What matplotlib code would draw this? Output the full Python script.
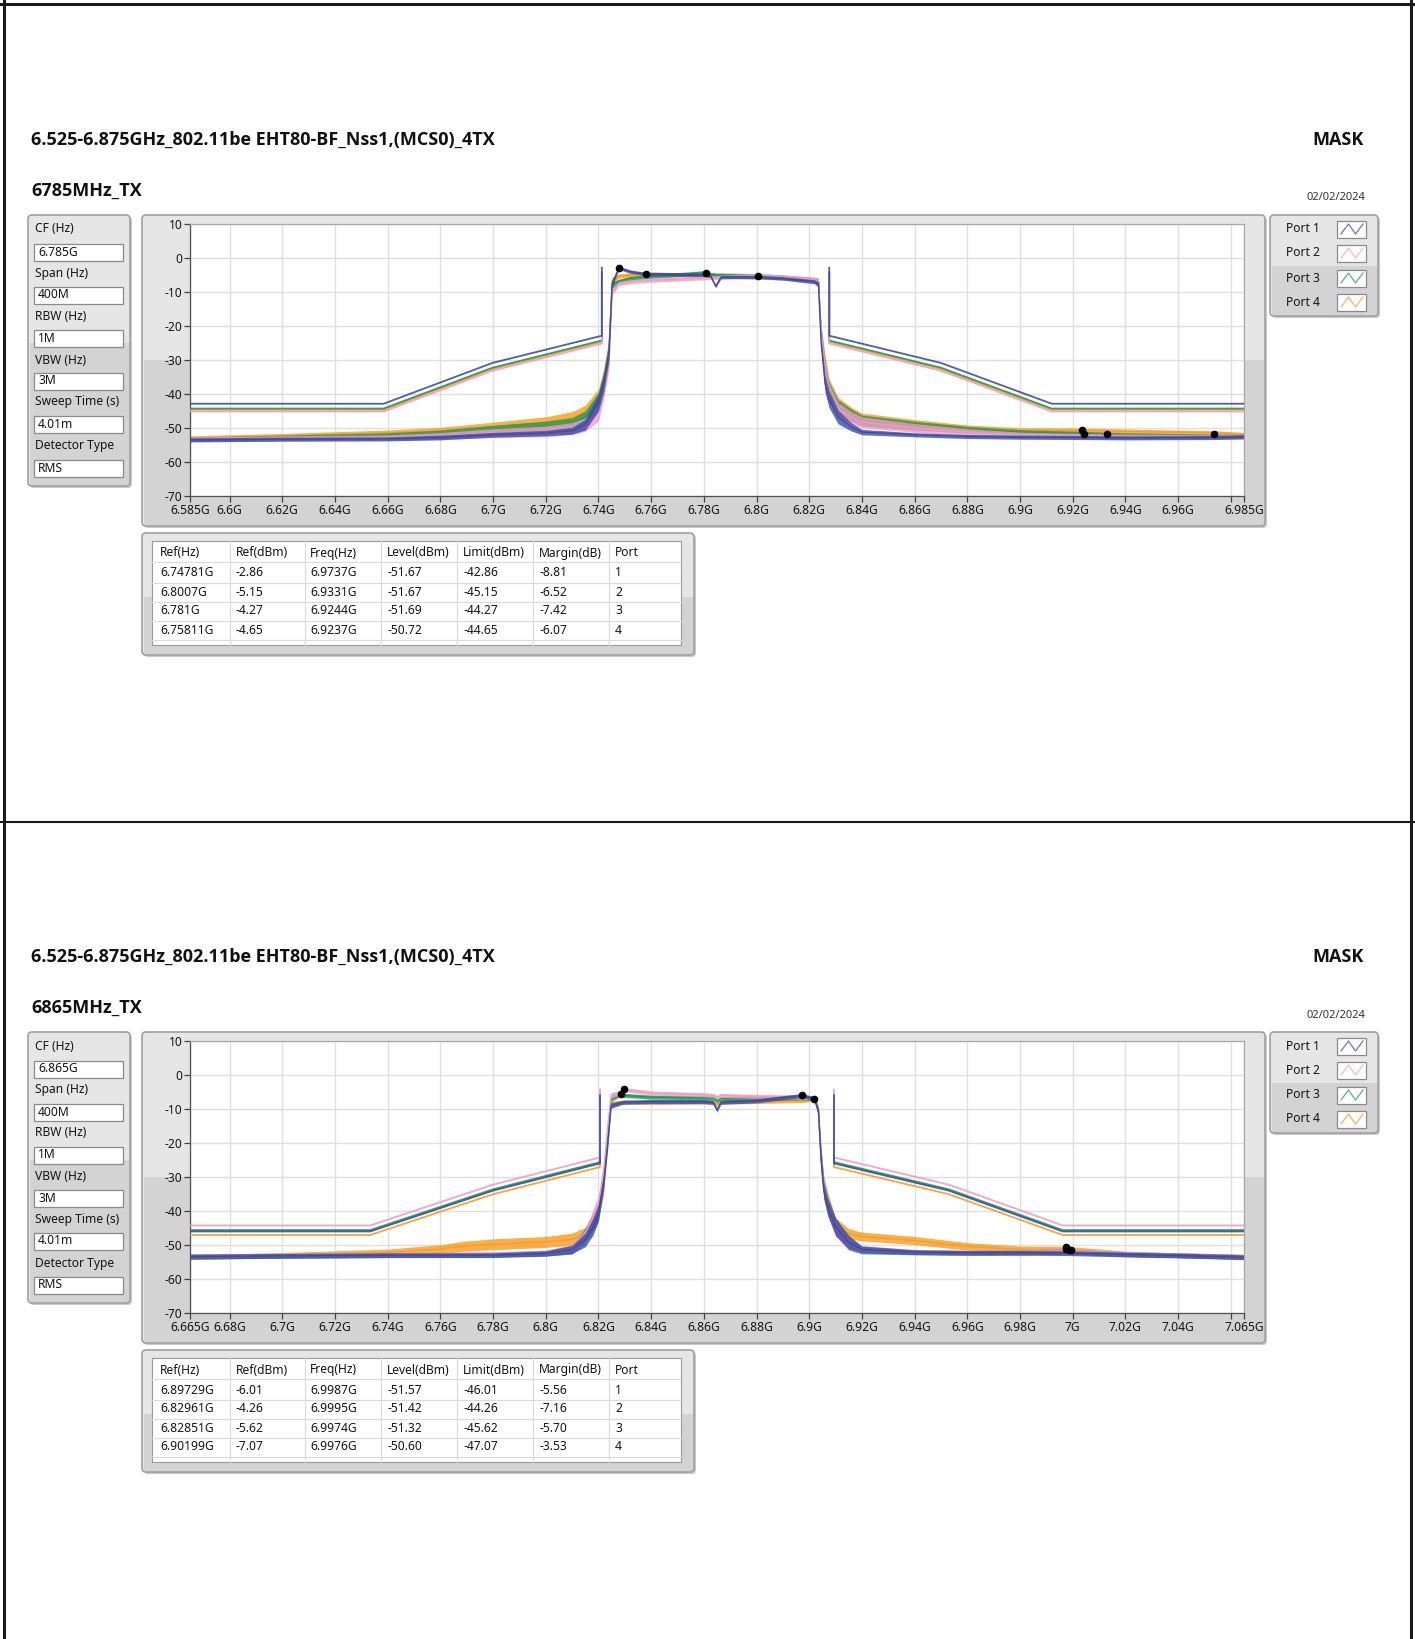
import numpy as np
import matplotlib.pyplot as plt
from matplotlib import font_manager
from matplotlib.patches import FancyBboxPatch, Rectangle

plt.rcParams['font.family'] = ['Noto Sans', 'DejaVu Sans']


def has_bold(name):
    for fe in font_manager.fontManager.ttflist:
        w = fe.weight
        if isinstance(w, str):
            w = font_manager.weight_dict.get(w, 400)
        if fe.name == name and w >= 600:
            return True
    return False


BOLD = next((n for n in ["Noto Sans", "Open Sans", "Lato", "Roboto", "Liberation Sans"] if has_bold(n)),
            "DejaVu Sans")

W, H = 1415, 1639
nan = np.nan

# ---------------- data ----------------
title = "6.525-6.875GHz_802.11be EHT80-BF_Nss1,(MCS0)_4TX"
test_date = "02/02/2024"
ports = ["Port 1", "Port 2", "Port 3", "Port 4"]
colors = ["#3a4ba6", "#f39ac5", "#1b9a4d", "#f89c1e"]
setting_names = ["CF (Hz)", "Span (Hz)", "RBW (Hz)", "VBW (Hz)", "Sweep Time (s)", "Detector Type"]
table_head = ["Ref(Hz)", "Ref(dBm)", "Freq(Hz)", "Level(dBm)", "Limit(dBm)", "Margin(dB)", "Port"]
y_ticks = [10, 0, -10, -20, -30, -40, -50, -60, -70]
mask_dbr = [-40, -40, -28, -20, 0, nan, 0, -20, -28, -40, -40]

# 6785 MHz
top_sub = "6785MHz_TX"
top_settings = ["6.785G", "400M", "1M", "3M", "4.01m", "RMS"]
top_xlim = (6.585, 6.985)
top_xticks = [6.585, 6.6, 6.62, 6.64, 6.66, 6.68, 6.7, 6.72, 6.74, 6.76, 6.78,
              6.8, 6.82, 6.84, 6.86, 6.88, 6.9, 6.92, 6.94, 6.96, 6.98, 6.985]
top_xlabels = ["6.585G", "6.6G", "6.62G", "6.64G", "6.66G", "6.68G", "6.7G", "6.72G", "6.74G",
               "6.76G", "6.78G", "6.8G", "6.82G", "6.84G", "6.86G", "6.88G", "6.9G", "6.92G",
               "6.94G", "6.96G", "", "6.985G"]
top_mask_f = [6.585, 6.6585, 6.6998, 6.7413, 6.7413, nan, 6.8276, 6.8276, 6.870, 6.912, 6.985]
top_f = [6.585, 6.62, 6.66, 6.68, 6.70, 6.72, 6.73, 6.735, 6.740, 6.742, 6.744, 6.7452, 6.7478,
         6.752, 6.758, 6.770, 6.781, 6.7825, 6.7845, 6.7865, 6.8007, 6.810, 6.822, 6.8235,
         6.8245, 6.826, 6.8275, 6.831, 6.836, 6.840, 6.860, 6.880, 6.900, 6.924, 6.940, 6.974, 6.985]
top_p1 = [-53.5, -53.3, -53.2, -52.8, -52.0, -51.5, -50.8, -49.0, -42.5, -37.0, -28.0, -7.5, -2.9,
          -4.0, -4.7, -4.8, -5.0, -5.2, -8.3, -5.6, -5.6, -6.0, -7.0, -7.8,
          -25.0, -37.0, -41.5, -46.8, -49.7, -51.2, -52.0, -52.5, -52.7, -52.8, -52.9, -52.8, -52.6]
top_p2 = [-53.2, -53.0, -52.8, -52.3, -51.5, -51.0, -50.2, -49.0, -45.5, -39.0, -31.0, -10.0, -7.5,
          -7.0, -6.6, -6.2, -5.8, -5.7, -5.8, -5.6, -5.15, -5.6, -6.3, -6.8,
          -22.0, -33.0, -39.5, -44.5, -47.0, -48.3, -50.0, -51.2, -52.0, -52.3, -52.5, -52.6, -52.6]
top_p3 = [-53.3, -52.8, -52.2, -51.6, -50.5, -49.6, -48.8, -47.0, -42.0, -36.0, -27.0, -8.0, -6.8,
          -6.0, -5.5, -4.9, -4.27, -4.8, -5.0, -5.0, -5.2, -5.6, -6.3, -6.8,
          -22.0, -33.0, -39.0, -43.8, -46.2, -47.8, -49.3, -50.5, -51.3, -51.69, -52.1, -52.4, -52.5]
top_p4 = [-52.9, -52.3, -51.4, -50.8, -49.6, -48.3, -47.0, -45.3, -41.0, -35.0, -26.0, -6.5, -5.3,
          -5.0, -4.65, -4.9, -5.1, -5.1, -5.3, -5.3, -5.6, -5.9, -6.5, -7.0,
          -21.0, -31.0, -38.0, -43.0, -45.7, -47.2, -48.8, -50.1, -50.7, -50.72, -51.0, -51.4, -51.9]
top_spread_p1 = [0.6, 0.6, 0.6, 0.7, 0.7, 0.8, 1.0, 1.6, 2.5, 2.5, 2.0, 1.0, 0.5, 0.5, 0.5, 0.5,
                 0.5, 0.5, 0.5, 0.5, 0.5, 0.5, 0.6, 0.8, 1.5, 2.5, 2.5, 2.0, 1.2, 0.8, 0.6, 0.6,
                 0.6, 0.6, 0.6, 0.6, 0.6]
top_spread = [0.6, 0.7, 0.8, 1.0, 1.3, 1.6, 1.8, 2.0, 2.5, 2.5, 2.0, 1.0, 0.6, 0.6, 0.6, 0.6,
              0.6, 0.6, 0.6, 0.6, 0.6, 0.6, 0.6, 0.8, 1.5, 2.5, 2.5, 2.0, 1.8, 1.6, 1.3, 1.0,
              0.8, 0.7, 0.7, 0.6, 0.6]
top_ref_hz = [6.74781, 6.8007, 6.781, 6.75811]
top_ref_dbm = [-2.86, -5.15, -4.27, -4.65]
top_freq_hz = [6.9737, 6.9331, 6.9244, 6.9237]
top_level = [-51.67, -51.67, -51.69, -50.72]
top_limit = [-42.86, -45.15, -44.27, -44.65]
top_margin = [-8.81, -6.52, -7.42, -6.07]

# 6865 MHz
bot_sub = "6865MHz_TX"
bot_settings = ["6.865G", "400M", "1M", "3M", "4.01m", "RMS"]
bot_xlim = (6.665, 7.065)
bot_xticks = [6.665, 6.68, 6.7, 6.72, 6.74, 6.76, 6.78, 6.8, 6.82, 6.84, 6.86,
              6.88, 6.9, 6.92, 6.94, 6.96, 6.98, 7.0, 7.02, 7.04, 7.06, 7.065]
bot_xlabels = ["6.665G", "6.68G", "6.7G", "6.72G", "6.74G", "6.76G", "6.78G", "6.8G", "6.82G",
               "6.84G", "6.86G", "6.88G", "6.9G", "6.92G", "6.94G", "6.96G", "6.98G", "7G",
               "7.02G", "7.04G", "", "7.065G"]
bot_mask_f = [6.665, 6.7334, 6.780, 6.8206, 6.8206, nan, 6.9094, 6.9094, 6.953, 6.9962, 7.065]
bot_f = [6.665, 6.70, 6.74, 6.76, 6.77, 6.78, 6.80, 6.81, 6.815, 6.818, 6.820, 6.822, 6.8235,
         6.8248, 6.8285, 6.8296, 6.840, 6.860, 6.8635, 6.8650, 6.8665, 6.880, 6.8973, 6.9020,
         6.9035, 6.9045, 6.9055, 6.907, 6.910, 6.915, 6.920, 6.940, 6.960, 6.980, 6.998,
         7.020, 7.040, 7.065]
bot_p1 = [-53.4, -53.2, -53.0, -53.0, -53.0, -53.0, -52.5, -51.3, -48.5, -44.5, -40.5, -31.5, -20.5,
          -9.0, -8.2, -8.0, -7.8, -7.8, -8.0, -10.3, -8.0, -7.6, -6.01, -7.0,
          -10.8, -25.0, -34.0, -38.8, -44.7, -49.2, -51.3, -52.1, -52.3, -52.3, -52.4,
          -52.8, -53.1, -53.6]
bot_p2 = [-53.3, -53.1, -52.9, -52.8, -52.7, -52.7, -52.3, -51.0, -47.5, -42.0, -38.0, -28.0, -15.0,
          -6.0, -5.0, -4.26, -5.3, -5.8, -6.0, -6.6, -6.0, -6.3, -6.5, -6.8,
          -10.0, -24.0, -33.0, -39.0, -45.0, -49.5, -51.2, -52.0, -52.2, -52.2, -51.9,
          -52.6, -53.0, -53.5]
bot_p3 = [-53.4, -53.2, -53.0, -52.9, -52.9, -52.8, -52.4, -51.5, -47.0, -43.0, -39.5, -30.0, -18.0,
          -7.0, -5.62, -6.0, -6.5, -6.7, -6.8, -7.5, -6.9, -6.9, -6.7, -7.0,
          -10.5, -24.5, -33.5, -38.5, -44.5, -49.5, -51.6, -52.2, -52.3, -52.2, -51.9,
          -52.7, -53.0, -53.5]
bot_p4 = [-53.6, -53.0, -52.2, -51.2, -50.3, -49.8, -49.1, -48.3, -46.8, -43.3, -40.4, -33.0, -18.0,
          -8.5, -8.0, -8.0, -8.1, -8.0, -8.1, -8.6, -8.0, -7.8, -7.5, -7.07,
          -11.0, -24.0, -32.0, -37.0, -44.0, -46.7, -47.5, -48.7, -50.4, -51.3, -51.3,
          -52.6, -53.0, -53.4]
bot_spread = [0.7, 0.7, 0.7, 0.7, 0.7, 0.7, 0.8, 1.2, 2.0, 2.5, 2.5, 2.0, 1.5, 0.8, 0.6, 0.6,
              0.6, 0.6, 0.6, 0.6, 0.6, 0.6, 0.6, 0.6, 1.0, 2.5, 2.5, 2.5, 2.5, 2.0, 1.0, 0.7,
              0.7, 0.7, 0.7, 0.7, 0.7, 0.7]
bot_spread_p4 = [0.7, 0.8, 1.0, 1.3, 1.5, 1.6, 1.6, 1.8, 2.0, 2.5, 2.5, 2.0, 1.5, 0.8, 0.6, 0.6,
                 0.6, 0.6, 0.6, 0.6, 0.6, 0.6, 0.6, 0.6, 1.0, 2.5, 2.5, 2.5, 2.0, 1.5, 1.3, 1.2,
                 1.1, 1.0, 0.9, 0.8, 0.7, 0.7]
bot_ref_hz = [6.89729, 6.82961, 6.82851, 6.90199]
bot_ref_dbm = [-6.01, -4.26, -5.62, -7.07]
bot_freq_hz = [6.9987, 6.9995, 6.9974, 6.9976]
bot_level = [-51.57, -51.42, -51.32, -50.60]
bot_limit = [-46.01, -44.26, -45.62, -47.07]
bot_margin = [-5.56, -7.16, -5.70, -3.53]

# ---------------- layout (pixels) ----------------
label_y = [229, 273, 316, 360, 402, 446]
box_y = [252, 295, 338, 381, 424, 468]
legend_y = [229, 253, 278, 302]
col_x = [160, 236, 310, 387, 463, 539, 615]
col_sep = [230, 305, 381, 457, 533, 609]
row_y = [553, 573, 592, 611, 630]
row_sep = [562, 583, 602, 621, 640]

fig = plt.figure(figsize=(W / 100, H / 100), dpi=100)
bg = fig.add_axes([0, 0, 1, 1])
bg.set_xlim(0, W)
bg.set_ylim(H, 0)
bg.axis("off")

TXT = "#141414"
FS = 8.7


def panel(x0, y0, x1, y1, split, light="#e6e6e6", dark="#d3d3d3"):
    w, h = x1 - x0, y1 - y0
    style = "round,pad=0,rounding_size=4"
    bg.add_patch(FancyBboxPatch((x0 + 2, y0 + 2), w, h, boxstyle=style, fc="#c8c8c8", ec="none"))
    bg.add_patch(FancyBboxPatch((x0, y0), w, h, boxstyle=style, fc=light, ec="none"))
    bg.add_patch(Rectangle((x0 + 1.5, split), w - 3, y1 - split - 1.5, fc=dark, ec="none"))
    bg.add_patch(FancyBboxPatch((x0, y0), w, h, boxstyle=style, fc="none", ec="#a0a0a0", lw=1.2))


def block(dy, sub, settings, xlim, xticks, xlabels, mask_f, f, traces, spreads,
          ref_hz, ref_dbm, freq_hz, level, limit, margin):
    bold = dict(fontsize=13, fontweight="bold", family=BOLD, va="center", color="#111")
    bg.text(31, 140 + dy, title, **bold)
    bg.text(1364, 140 + dy, "MASK", ha="right", **bold)
    bg.text(31, 191 + dy, sub, **bold)
    bg.text(1365, 198 + dy, test_date, fontsize=8, va="center", ha="right", color="#333")

    # settings panel
    panel(28, 215 + dy, 130, 486 + dy, 343 + dy)
    for name, val, ly, by in zip(setting_names, settings, label_y, box_y):
        bg.text(35, ly + dy, name, fontsize=FS, va="center", color=TXT)
        bg.add_patch(Rectangle((34, by + dy - 8.5), 89, 17, fc="white", ec="#8a8a8a", lw=0.9))
        bg.text(38, by + dy, val, fontsize=FS, va="center", color=TXT)

    # graph frame
    panel(142, 215 + dy, 1265, 526 + dy, 360 + dy)

    # legend
    panel(1270, 215 + dy, 1378, 316 + dy, 266 + dy)
    for name, c, ly in zip(ports, colors, legend_y):
        yc = ly + dy
        bg.text(1286, yc, name, fontsize=FS, va="center", color=TXT)
        bg.add_patch(Rectangle((1337, yc - 8.5), 29, 17, fc="white", ec="#8a8a8a", lw=0.9))
        bg.plot([1341, 1348.5, 1355.5, 1363], [yc + 5, yc - 5, yc + 5, yc - 5], color=c, lw=0.9, alpha=0.75)

    # table
    panel(142, 533 + dy, 694, 655 + dy, 597 + dy)
    bg.add_patch(Rectangle((152, 541 + dy), 529, 104, fc="white", ec="#9a9a9a", lw=0.8))
    for xs in col_sep:
        bg.plot([xs, xs], [541 + dy, 645 + dy], color="#dadada", lw=0.8)
    for ys in row_sep:
        bg.plot([152, 681], [ys + dy, ys + dy], color="#dadada", lw=0.8)
    for x, h in zip(col_x, table_head):
        bg.text(x, row_y[0] + dy, h, fontsize=FS, va="center", color=TXT)
    for i in range(4):
        cells = [f"{ref_hz[i]:g}G", f"{ref_dbm[i]:.2f}", f"{freq_hz[i]:g}G", f"{level[i]:.2f}",
                 f"{limit[i]:.2f}", f"{margin[i]:.2f}", str(i + 1)]
        for x, s in zip(col_x, cells):
            bg.text(x, row_y[i + 1] + dy, s, fontsize=FS, va="center", color=TXT)

    # spectrum graph
    ax = fig.add_axes([190 / W, 1 - (496 + dy) / H, 1054 / W, 272 / H])
    ax.set_facecolor("white")
    for i in [3, 2, 1, 0]:
        lv = np.array(traces[i])
        sp = np.array(spreads[i])
        ax.fill_between(f, lv - sp, lv + sp, color=colors[i], lw=0, alpha=0.8, zorder=2 + (3 - i) * 0.1)
        ax.plot(f, lv, color=colors[i], lw=0.9, zorder=2.05 + (3 - i) * 0.1)
    for i in [3, 2, 1, 0]:
        ax.plot(mask_f, np.array(mask_dbr) + ref_dbm[i], color=colors[i], lw=1.3, alpha=0.9, zorder=3)
    ax.plot(ref_hz, ref_dbm, "o", color="black", ms=4.5, zorder=5)
    ax.plot(freq_hz, level, "o", color="black", ms=4.5, zorder=5)

    ax.set_xlim(xlim)
    ax.set_ylim(-70, 10)
    ax.set_xticks(xticks)
    ax.set_xticklabels(xlabels, fontsize=FS)
    ax.set_yticks(y_ticks)
    ax.set_yticklabels([str(v) for v in y_ticks], fontsize=FS)
    ax.grid(color="#dfdfdf", lw=1.0)
    ax.set_axisbelow(True)
    ax.tick_params(direction="out", length=4, width=0.9, color="#404040", pad=1.5, labelcolor=TXT)
    for s in ["left", "bottom"]:
        ax.spines[s].set_color("#505050")
        ax.spines[s].set_linewidth(0.9)
    for s in ["top", "right"]:
        ax.spines[s].set_color("#a8a8a8")
        ax.spines[s].set_linewidth(0.9)


block(0, top_sub, top_settings, top_xlim, top_xticks, top_xlabels, top_mask_f, top_f,
      [top_p1, top_p2, top_p3, top_p4], [top_spread_p1, top_spread, top_spread, top_spread],
      top_ref_hz, top_ref_dbm, top_freq_hz, top_level, top_limit, top_margin)
block(817, bot_sub, bot_settings, bot_xlim, bot_xticks, bot_xlabels, bot_mask_f, bot_f,
      [bot_p1, bot_p2, bot_p3, bot_p4], [bot_spread, bot_spread, bot_spread, bot_spread_p4],
      bot_ref_hz, bot_ref_dbm, bot_freq_hz, bot_level, bot_limit, bot_margin)

# page borders
bg.plot([3.5, 3.5], [0, H], color="#1a1a1a", lw=2.2)
bg.plot([1411, 1411], [0, H], color="#1a1a1a", lw=2.2)
bg.plot([0, W], [4, 4], color="#1a1a1a", lw=2.2)
bg.plot([0, W], [822, 822], color="#1a1a1a", lw=1.5)

fig.savefig("out.png", dpi=100, facecolor="white")
